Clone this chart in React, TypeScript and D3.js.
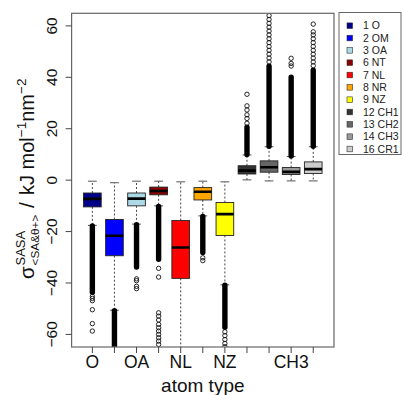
import React from "react";
import * as d3 from "d3";

const names = ["O", "OM", "OA", "NT", "NL", "NR", "NZ", "CH1", "CH2", "CH3", "CR1"];
const legendLabels = ["1 O", "2 OM", "3 OA", "6 NT", "7 NL", "8 NR", "9 NZ", "12 CH1", "13 CH2", "14 CH3", "16 CR1"];
const colors = ["#00008B", "#0000FF", "#ADD8E6", "#8B0000", "#FF0000", "#FFA500", "#FFFF00", "#333333", "#666666", "#999999", "#CCCCCC"];
const shownTickLabels = ["O", "OA", "NL", "NZ", "CH3"];

const whiskerLo = [-17.6, -50.6, -17.1, -10.0, -80, -13.9, -40.7, 0.1, -0.3, -0.3, -0.3];
const q1 = [-10.4, -29.4, -10.0, -5.7, -38.2, -7.7, -21.5, 2.4, 3.1, 2.2, 2.6];
const medians = [-7.3, -21.6, -7.2, -4.2, -26.2, -4.5, -13.2, 3.7, 5.0, 3.2, 4.3];
const q3 = [-5.0, -15.3, -5.0, -2.7, -15.7, -2.9, -8.7, 5.6, 7.5, 4.9, 7.1];
const whiskerHi = [-0.4, -1.0, -0.4, -0.4, -0.66, -0.4, -0.66, 9.8, 13.0, 9.2, 13.0];

// dense (overplotted) outlier runs: [from, to]; null = none
const denseRuns: ([number, number] | null)[] = [
  [-43.8, -17.6],
  [-70, -50.6],
  [-34, -17.1],
  [-31, -10.0],
  null,
  [-28.3, -13.9],
  [-57.4, -40.7],
  [9.8, 20.8],
  [13.0, 44.5],
  [9.2, 40.2],
  [13.0, 43.0],
];
const sparseOutliers: number[][] = [
  [-45.2, -46.0, -46.9, -50.4, -55.8, -58.7],
  [],
  [-38.4, -39.1, -41.3, -42.2],
  [-34.3, -37.7, -51.6, -52.9, -54.4, -56.1, -57.4, -58.7, -60.0, -61.3, -62.6, -63.9],
  [],
  [-30.2, -31.3],
  [-59.0, -60.5, -62.0, -63.5, -64.8],
  [22.1, 24.0, 25.4, 27.3, 28.9, 33.4],
  [46.0, 47.5, 49.0, 50.5, 52.0, 53.5, 55.0, 56.5, 58.0, 59.5, 61.0, 62.5, 64.0],
  [44.4, 45.4, 47.4],
  [44.5, 46.0, 47.5, 49.0, 50.5, 52.0, 53.5, 55.0, 56.5, 57.7, 60.7],
];
const yTicks = [-60, -40, -20, 0, 20, 40, 60];

const W = 403;
const H = 395;
const plot = { left: 71.6, right: 334, top: 13.3, bottom: 347 };
const font = "'Liberation Sans', Arial, Helvetica, sans-serif";

export default function App() {
  const x = d3.scaleLinear().domain([0.06, 11.94]).range([plot.left, plot.right]);
  const y = d3.scaleLinear().domain([-64.9, 64.9]).range([plot.bottom, plot.top]);
  const bw = x(1.8) - x(1);
  const capW = bw / 2;
  const r = 2.2;

  return (
    <svg width={W} height={H} style={{ position: "absolute", left: 0, top: 0, background: "#fff" }} fontFamily={font}>
      <defs>
        <clipPath id="plotclip">
          <rect x={plot.left} y={plot.top} width={plot.right - plot.left} height={plot.bottom - plot.top} />
        </clipPath>
      </defs>
      <g clipPath="url(#plotclip)">
        {names.map((n, i) => {
          const cx = x(i + 1);
          const run = denseRuns[i];
          return (
            <g key={n}>
              <line x1={cx} x2={cx} y1={y(q3[i])} y2={y(whiskerHi[i])} stroke="#333" strokeWidth={0.9} strokeDasharray="2,2" />
              <line x1={cx} x2={cx} y1={y(q1[i])} y2={y(whiskerLo[i])} stroke="#333" strokeWidth={0.9} strokeDasharray="2,2" />
              <line x1={cx - capW / 2} x2={cx + capW / 2} y1={y(whiskerHi[i])} y2={y(whiskerHi[i])} stroke="#555" strokeWidth={1} />
              <line x1={cx - capW / 2} x2={cx + capW / 2} y1={y(whiskerLo[i])} y2={y(whiskerLo[i])} stroke="#555" strokeWidth={1} />
              <rect x={cx - bw / 2} y={y(q3[i])} width={bw} height={y(q1[i]) - y(q3[i])} fill={colors[i]} stroke="#222" strokeWidth={0.9} />
              <line x1={cx - bw / 2} x2={cx + bw / 2} y1={y(medians[i])} y2={y(medians[i])} stroke="#000" strokeWidth={2.6} />
              {run && (
                <rect x={cx - r - 0.5} width={2 * r + 1} y={y(Math.max(run[0], run[1])) - r} height={Math.abs(y(run[0]) - y(run[1])) + 2 * r} rx={r + 0.5} fill="#000" />
              )}
              {sparseOutliers[i].map((v, j) => (
                <circle key={j} cx={cx} cy={y(v)} r={r} fill="none" stroke="#111" strokeWidth={0.9} />
              ))}
            </g>
          );
        })}
      </g>
      <rect x={plot.left} y={plot.top} width={plot.right - plot.left} height={plot.bottom - plot.top} fill="none" stroke="#666" strokeWidth={1.2} />
      {/* y axis */}
      {yTicks.map((t) => (
        <g key={t}>
          <line x1={plot.left - 6} x2={plot.left} y1={y(t)} y2={y(t)} stroke="#444" />
          <text transform={`translate(57,${y(t)}) rotate(-90)`} textAnchor="middle" fontSize={15.5} fill="#111">
            {t < 0 ? "\u2212" + Math.abs(t) : String(t)}
          </text>
        </g>
      ))}
      {/* x axis */}
      {names.map((n, i) => (
        <line key={n} x1={x(i + 1)} x2={x(i + 1)} y1={plot.bottom} y2={plot.bottom + 6} stroke="#444" />
      ))}
      {names.map((n, i) =>
        shownTickLabels.includes(n) ? (
          <text key={n} x={x(i + 1)} y={368} textAnchor="middle" fontSize={17.5} fill="#111">
            {n}
          </text>
        ) : null
      )}
      <text x={(plot.left + plot.right) / 2} y={391.5} textAnchor="middle" fontSize={19} fill="#111">
        atom type
      </text>
      {/* y label */}
      <g transform="translate(34,279) rotate(-90)" fill="#111">
        <text x={0} y={0} fontSize={20.5}>σ</text>
        <text x={13.5} y={-9} fontSize={13}>SASA</text>
        <text x={13.5} y={5} fontSize={11.8}>{"<SA&θ+>"}</text>
        <text x={71} y={0} fontSize={21}>/</text>
        <text x={84} y={0} fontSize={20}>
          {"kJ mol"}
          <tspan dy={-8} fontSize={13.5}>{"\u22121"}</tspan>
          <tspan dy={8}>nm</tspan>
          <tspan dy={-8} fontSize={13.5}>{"\u22122"}</tspan>
        </text>
      </g>
      {/* legend */}
      <rect x={339} y={12.5} width={62} height={142} fill="#fff" stroke="#666" strokeWidth={1} />
      {legendLabels.map((l, i) => {
        const ly = 25.7 + i * 12.33;
        return (
          <g key={l}>
            <rect x={347} y={ly - 2.8} width={5.6} height={5.6} fill={colors[i]} stroke="#333" strokeWidth={0.6} />
            <text x={363} y={ly + 3.7} fontSize={10.5} fill="#222">
              {l}
            </text>
          </g>
        );
      })}
    </svg>
  );
}
